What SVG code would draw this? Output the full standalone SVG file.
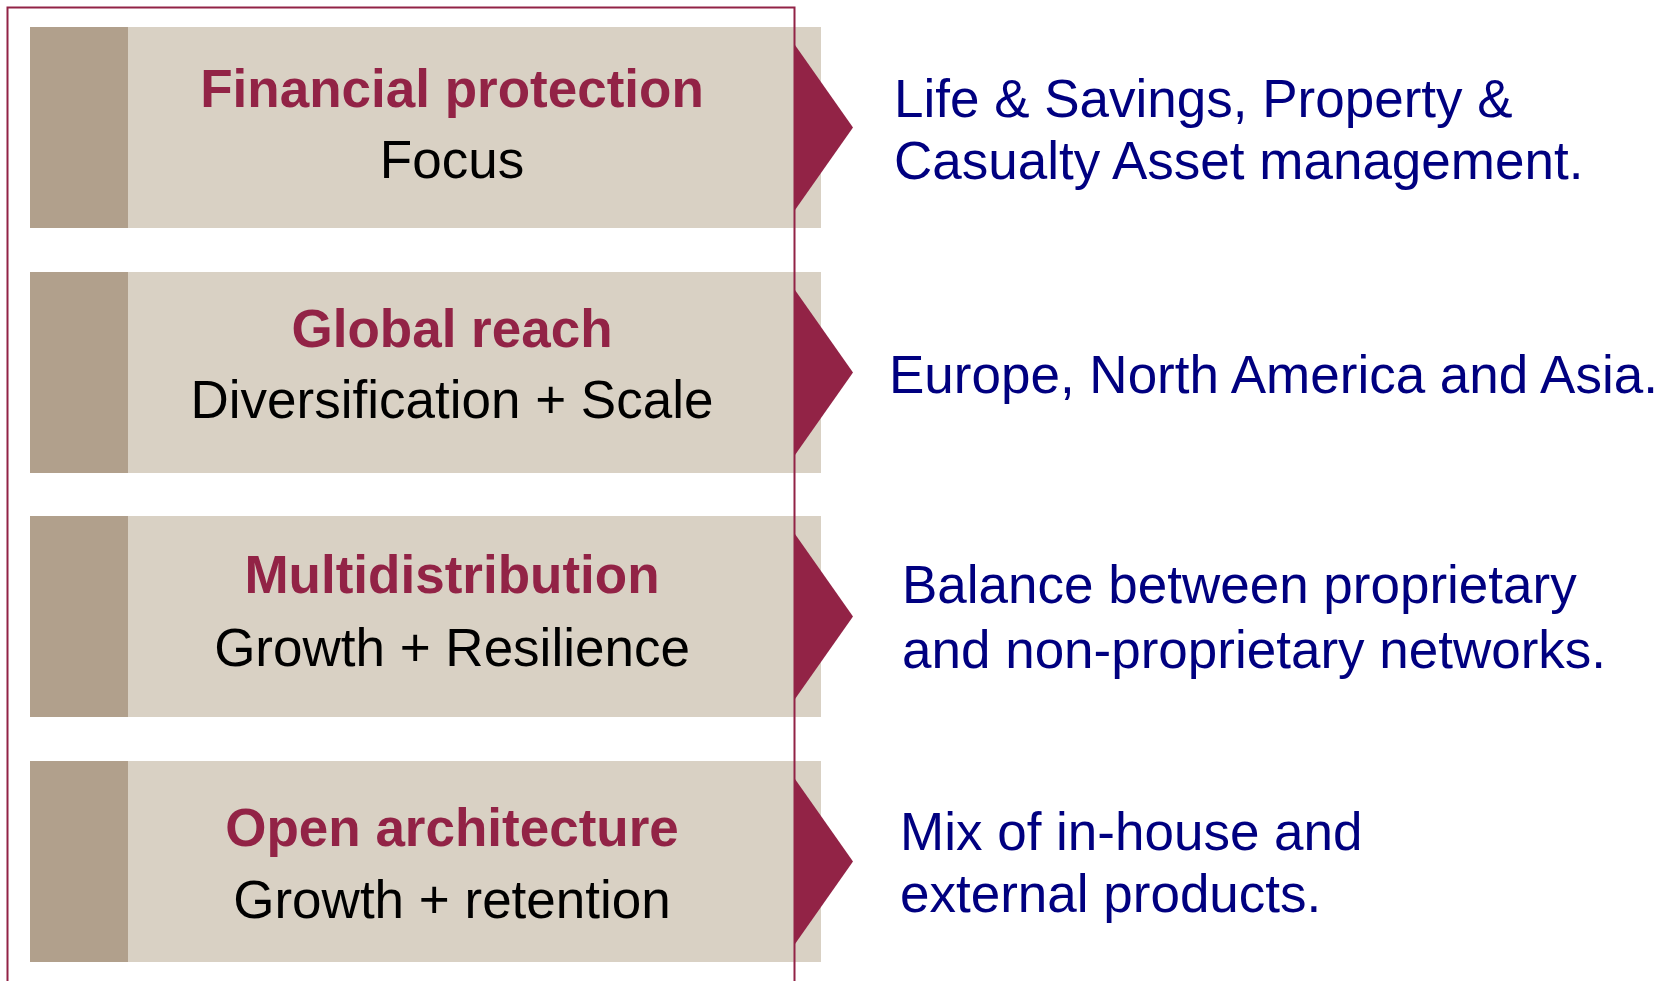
<svg xmlns="http://www.w3.org/2000/svg" width="1679" height="981" viewBox="0 0 1679 981">
<style>
.box{fill:#D9D1C4}
.strip{fill:#B1A08C}
.arrow{fill:#922346}
.title{font-family:"Liberation Sans",Arial,sans-serif;font-weight:bold;font-size:53px;fill:#922346;text-anchor:middle}
.sub{font-family:"Liberation Sans",Arial,sans-serif;font-size:53px;fill:#000000;text-anchor:middle}
.desc{font-family:"Liberation Sans",Arial,sans-serif;font-size:53px;fill:#000080}
.frame{fill:none;stroke:#922346;stroke-width:2}
</style>
<rect width="1679" height="981" fill="#FFFFFF"/>
<g id="node1">
<rect class="box" x="30" y="27" width="791" height="201"/>
<rect class="strip" x="30" y="27" width="98" height="201"/>
<text class="title" x="452" y="107">Financial protection</text>
<text class="sub" x="452" y="178">Focus</text>
</g>
<g id="node2">
<rect class="box" x="30" y="272" width="791" height="201"/>
<rect class="strip" x="30" y="272" width="98" height="201"/>
<text class="title" x="452" y="347">Global reach</text>
<text class="sub" x="452" y="418">Diversification + Scale</text>
</g>
<g id="node3">
<rect class="box" x="30" y="516" width="791" height="201"/>
<rect class="strip" x="30" y="516" width="98" height="201"/>
<text class="title" x="452" y="593">Multidistribution</text>
<text class="sub" x="452" y="666">Growth + Resilience</text>
</g>
<g id="node4">
<rect class="box" x="30" y="761" width="791" height="201"/>
<rect class="strip" x="30" y="761" width="98" height="201"/>
<text class="title" x="452" y="846">Open architecture</text>
<text class="sub" x="452" y="918">Growth + retention</text>
</g>
<g id="frame">
<path class="frame" d="M7.5,981 V7.5 H794.5 V981"/>
</g>
<g id="connectors">
<polygon class="arrow" points="795,45 853,127.5 795,210"/>
<polygon class="arrow" points="795,290 853,372.5 795,455"/>
<polygon class="arrow" points="795,534 853,616.5 795,699"/>
<polygon class="arrow" points="795,779 853,861.5 795,944"/>
</g>
<g id="desc1">
<text class="desc" x="894" y="117">Life &amp; Savings, Property &amp;</text>
<text class="desc" x="894" y="179">Casualty Asset management.</text>
</g>
<g id="desc2">
<text class="desc" x="889" y="393">Europe, North America and Asia.</text>
</g>
<g id="desc3">
<text class="desc" x="902" y="603">Balance between proprietary</text>
<text class="desc" x="902" y="668">and non-proprietary networks.</text>
</g>
<g id="desc4">
<text class="desc" x="900" y="850">Mix of in-house and</text>
<text class="desc" x="900" y="912">external products.</text>
</g>
</svg>
